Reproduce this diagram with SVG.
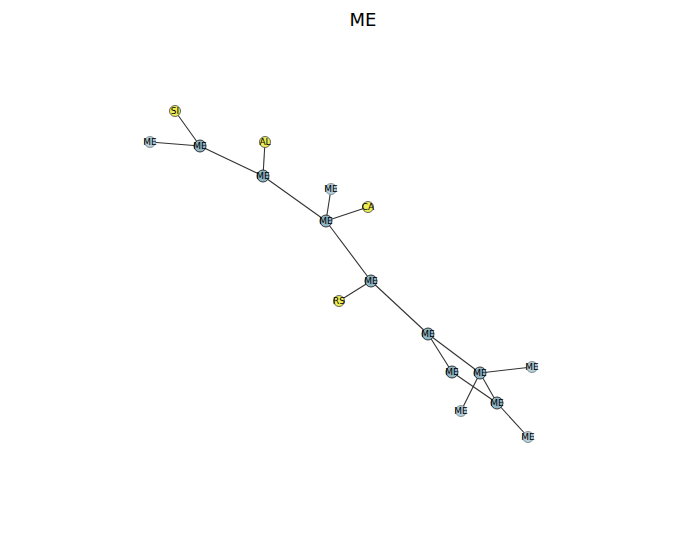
<svg xmlns="http://www.w3.org/2000/svg" width="694" height="545" viewBox="0 0 694 545">
<style>
.e{stroke:#333;stroke-width:1.1;fill:none}
.h{fill:#8fb6c6;stroke:#222;stroke-width:0.9}
.l{fill:#b4cfdb;stroke:#7a8a90;stroke-width:0.9}
.y{fill:#eeee55;stroke:#555;stroke-width:0.9}
text{font-family:"DejaVu Sans",sans-serif;font-size:9px;text-anchor:middle;dominant-baseline:central;fill:#000}
.t{font-size:18px}
</style>
<rect width="694" height="545" fill="#fff"/>
<text class="t" x="363" y="19">ME</text>
<g id="edges">
<line class="e" x1="175" y1="111" x2="200" y2="146"/>
<line class="e" x1="150" y1="142" x2="200" y2="146"/>
<line class="e" x1="200" y1="146" x2="263" y2="176"/>
<line class="e" x1="265" y1="142" x2="263" y2="176"/>
<line class="e" x1="263" y1="176" x2="326" y2="221"/>
<line class="e" x1="331" y1="189" x2="326" y2="221"/>
<line class="e" x1="368" y1="207" x2="326" y2="221"/>
<line class="e" x1="326" y1="221" x2="371" y2="281"/>
<line class="e" x1="371" y1="281" x2="339" y2="301"/>
<line class="e" x1="371" y1="281" x2="428" y2="334"/>
<line class="e" x1="428" y1="334" x2="452" y2="372"/>
<line class="e" x1="428" y1="334" x2="480" y2="373"/>
<line class="e" x1="480" y1="373" x2="532" y2="367"/>
<line class="e" x1="480" y1="373" x2="461" y2="411"/>
<line class="e" x1="480" y1="373" x2="497" y2="403"/>
<line class="e" x1="452" y1="372" x2="497" y2="403"/>
<line class="e" x1="497" y1="403" x2="528" y2="437"/>
</g>
<g id="n1"><circle class="y" cx="175" cy="111" r="5.5"/><text x="175" y="111">SI</text></g>
<g id="n2"><circle class="l" cx="150" cy="142" r="5.5"/><text x="150" y="142">ME</text></g>
<g id="n3"><circle class="h" cx="200" cy="146" r="6"/><text x="200" y="146">ME</text></g>
<g id="n4"><circle class="y" cx="265" cy="142" r="5.5"/><text x="265" y="142">AL</text></g>
<g id="n5"><circle class="h" cx="263" cy="176" r="6"/><text x="263" y="176">ME</text></g>
<g id="n6"><circle class="l" cx="331" cy="189" r="5.5"/><text x="331" y="189">ME</text></g>
<g id="n7"><circle class="y" cx="368" cy="207" r="5.5"/><text x="368" y="207">CA</text></g>
<g id="n8"><circle class="h" cx="326" cy="221" r="6"/><text x="326" y="221">ME</text></g>
<g id="n9"><circle class="h" cx="371" cy="281" r="6"/><text x="371" y="281">ME</text></g>
<g id="n10"><circle class="y" cx="339" cy="301" r="5.5"/><text x="339" y="301">RS</text></g>
<g id="n11"><circle class="h" cx="428" cy="334" r="6"/><text x="428" y="334">ME</text></g>
<g id="n12"><circle class="h" cx="452" cy="372" r="6"/><text x="452" y="372">ME</text></g>
<g id="n13"><circle class="h" cx="480" cy="373" r="6"/><text x="480" y="373">ME</text></g>
<g id="n14"><circle class="l" cx="532" cy="367" r="5.5"/><text x="532" y="367">ME</text></g>
<g id="n15"><circle class="l" cx="461" cy="411" r="5.5"/><text x="461" y="411">ME</text></g>
<g id="n16"><circle class="h" cx="497" cy="403" r="6"/><text x="497" y="403">ME</text></g>
<g id="n17"><circle class="l" cx="528" cy="437" r="5.5"/><text x="528" y="437">ME</text></g>
</svg>
